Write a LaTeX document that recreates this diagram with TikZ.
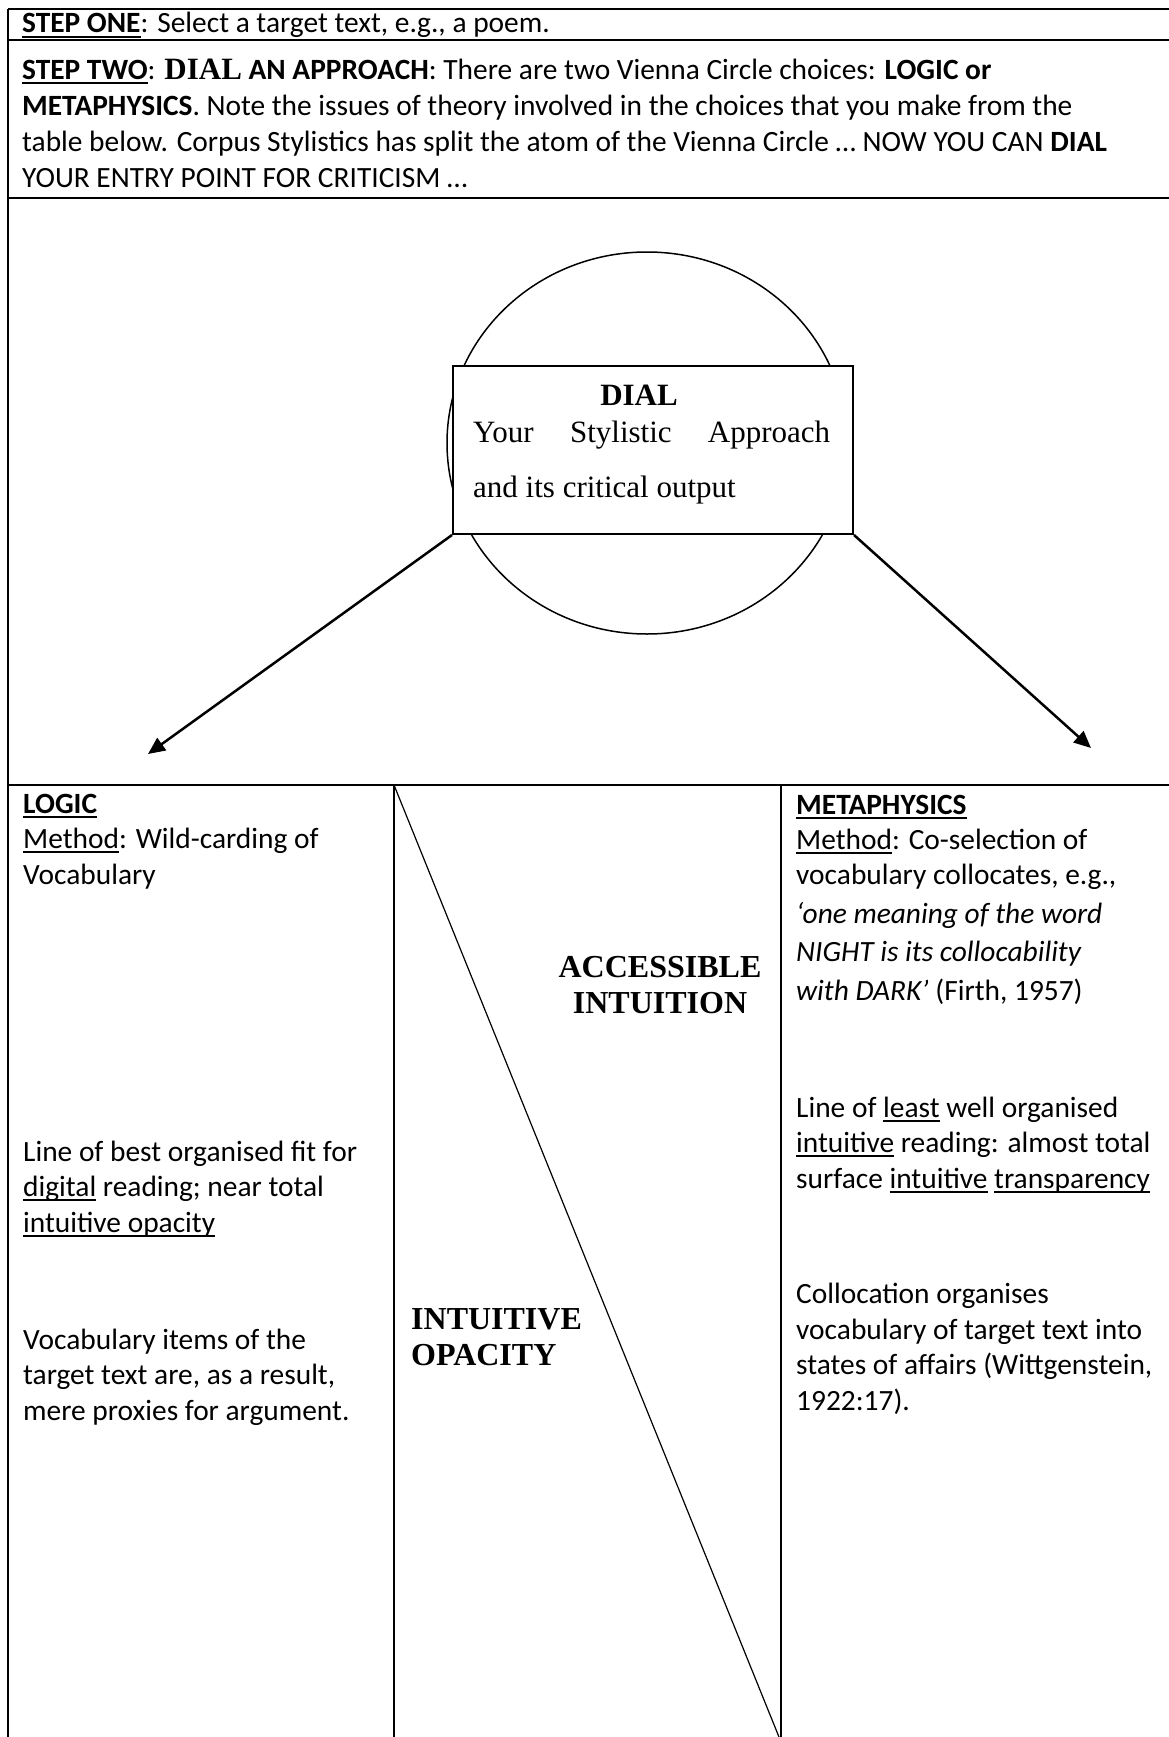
\documentclass[tikz,border=0pt]{standalone}
\usepackage{fontspec}
\setmainfont{Carlito}
\newfontfamily\tnr{Liberation Serif}
\usetikzlibrary{shapes.geometric,arrows.meta}
\newcommand\myul[1]{\leavevmode\setbox0\hbox{#1}\rlap{\vrule width\wd0 height -0.09em depth 0.155em}\box0\relax}
\tikzset{
  body/.style={font=\fontsize{29.4}{35.4}\selectfont, anchor=base west, align=left, inner sep=0pt},
  hdr/.style={font=\fontsize{29.4}{36}\selectfont, anchor=base west, align=left, inner sep=0pt},
  midlab/.style={font=\tnr\bfseries\fontsize{32}{35.5}\selectfont, inner sep=0pt},
  dialtxt/.style={font=\tnr\fontsize{31}{36}\selectfont, inner sep=0pt},
  frame/.style={line width=2.5pt},
  arr/.style={line width=2.5pt, -{Triangle[length=17pt,width=15pt]}}
}
\begin{document}
\begin{tikzpicture}[x=1pt,y=-1pt]
\useasboundingbox (0,0) rectangle (1169,1737);
% table frame
\draw[frame] (8,9) -- (1169,9);
\draw[frame] (8,9) -- (8,1737);
\draw[line width=1.6pt] (8,40) -- (1169,40);
\draw[frame] (8,198) -- (1169,198);
\draw[frame] (8,785) -- (1169,785);
\draw[frame] (394,785) -- (394,1737);
\draw[frame] (781,785) -- (781,1737);
\draw[line width=1.2pt] (394,785) -- (779,1737);
% header (base anchor = last line baseline)
\node[hdr] (h1) at (22,33) {\myul{\textbf{STEP ONE}}: Select a target text, e.g., a poem.};
\node[hdr] (h2) at (22,187) {\myul{\textbf{STEP TWO}}: {\tnr\bfseries\fontsize{31}{36}\selectfont DIAL} \textbf{AN APPROACH}: There are two Vienna Circle choices: \textbf{LOGIC or}\\
\textbf{METAPHYSICS}. Note the issues of theory involved in the choices that you make from the\\
table below. Corpus Stylistics has split the atom of the Vienna Circle … NOW YOU CAN \textbf{DIAL}\\
YOUR ENTRY POINT FOR CRITICISM …};
% dial
\node[draw, ellipse, minimum width=400, minimum height=382, inner sep=0pt, line width=1.5pt] (circ) at (647,443) {};
\node[draw, line width=2pt, fill=white, minimum width=400, minimum height=168, inner sep=0pt, anchor=north west] (dial) at (452,365) {};
\node[dialtxt, anchor=base] (dt) at (639,405) {\textbf{DIAL}};
\node[dialtxt, anchor=base west] (d1) at (473,442) {\makebox[357pt][s]{Your Stylistic Approach}};
\node[dialtxt, anchor=base west] (d2) at (473,497) {and its critical output};
\coordinate (tipL) at (148,754);
\coordinate (tipR) at (1091,748);
\draw[arr] (dial.south west) -- (tipL);
\draw[arr] (dial.south east) -- (tipR);
% left column
\node[body] (logic) at (23,884) {\myul{\textbf{LOGIC}}\\ \myul{Method}: Wild-carding of\\ Vocabulary};
\node[body] (best) at (23,1232) {Line of best organised fit for\\ \myul{digital} reading; near total\\ \myul{intuitive opacity}};
\node[body] (vocab) at (23,1420) {Vocabulary items of the\\ target text are, as a result,\\ mere proxies for argument.};
% middle column
\node[midlab, anchor=base, align=center] (acc) at (660,1013) {ACCESSIBLE\\INTUITION};
\node[midlab, anchor=base west, align=left] (opa) at (411,1365) {INTUITIVE\\OPACITY};
% right column
\node[body] (meta) at (796,1000) {\myul{\textbf{METAPHYSICS}}\\ \myul{Method}: Co-selection of\\ vocabulary collocates, e.g.,\\[3pt] \textit{‘one meaning of the word}\\[3pt] \textit{NIGHT is its collocability}\\[3pt] \textit{with DARK’} (Firth, 1957)};
\node[body] (least) at (796,1188) {Line of \myul{least} well organised\\ \myul{intuitive} reading: almost total\\ surface \myul{intuitive} \myul{transparency}};
\node[body] (coll) at (796,1410) {Collocation organises\\ vocabulary of target text into\\ states of affairs (Wittgenstein,\\ 1922:17).};
\end{tikzpicture}
\end{document}
